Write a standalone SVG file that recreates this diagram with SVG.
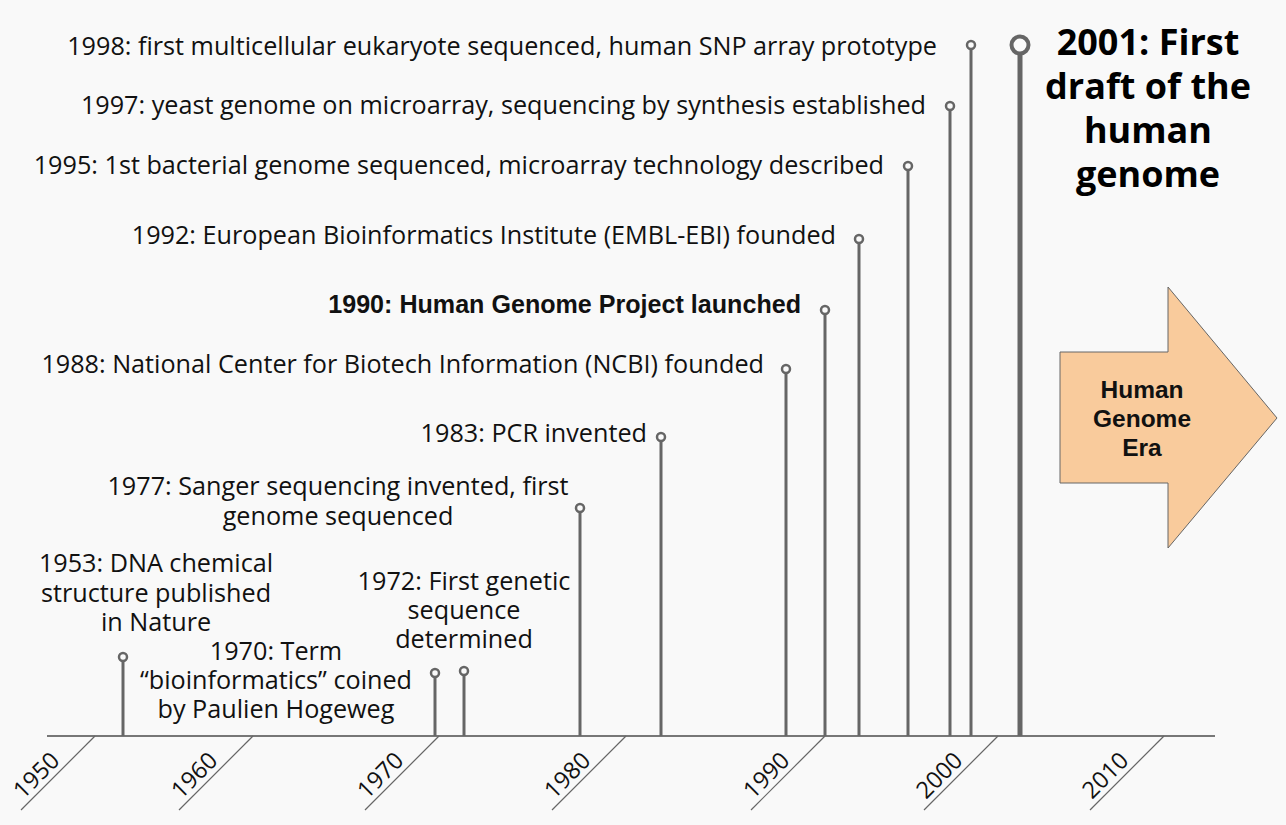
<svg xmlns="http://www.w3.org/2000/svg" width="1286" height="825" viewBox="0 0 1286 825">
<style>
.t{font-family:"Open Sans","DejaVu Sans",sans-serif;font-size:25.2px;fill:#111}
.e{text-anchor:end}
.m{text-anchor:middle}
.y{font-family:"Open Sans","DejaVu Sans",sans-serif;font-size:23.5px;fill:#111}
.b{font-family:"Liberation Sans",Arial,sans-serif;font-weight:bold;fill:#111}
.big{font-family:"Open Sans","DejaVu Sans",sans-serif;font-weight:bold;font-size:36px;fill:#000;text-anchor:middle}
.stem{stroke:#666;stroke-width:3;fill:none}
.dot{stroke:#666;stroke-width:2.5;fill:#fafafa}
.tick{stroke:#666;stroke-width:1.2}
</style>
<rect width="1286" height="825" fill="#f9f9f9"/>
<g id="axis">
<line x1="47" y1="736" x2="1215" y2="736" stroke="#777" stroke-width="2"/>
<g id="ticks">
<line class="tick" x1="95" y1="736" x2="21" y2="810"/>
<line class="tick" x1="253" y1="736" x2="179" y2="810"/>
<line class="tick" x1="439" y1="736" x2="365" y2="810"/>
<line class="tick" x1="626" y1="736" x2="552" y2="810"/>
<line class="tick" x1="825" y1="736" x2="751" y2="810"/>
<line class="tick" x1="998" y1="736" x2="924" y2="810"/>
<line class="tick" x1="1164" y1="736" x2="1090" y2="810"/>
</g>
<g id="years">
<text class="y" transform="translate(23,800) rotate(-45)">1950</text>
<text class="y" transform="translate(181,800) rotate(-45)">1960</text>
<text class="y" transform="translate(367,800) rotate(-45)">1970</text>
<text class="y" transform="translate(554,800) rotate(-45)">1980</text>
<text class="y" transform="translate(753,800) rotate(-45)">1990</text>
<text class="y" transform="translate(926,800) rotate(-45)">2000</text>
<text class="y" transform="translate(1092,800) rotate(-45)">2010</text>
</g>
</g>
<g id="connectors">
<line class="stem" x1="123" y1="661" x2="123" y2="736"/>
<line class="stem" x1="435" y1="677" x2="435" y2="736"/>
<line class="stem" x1="464" y1="675" x2="464" y2="736"/>
<line class="stem" x1="580" y1="512" x2="580" y2="736"/>
<line class="stem" x1="661" y1="441" x2="661" y2="736"/>
<line class="stem" x1="786" y1="373" x2="786" y2="736"/>
<line class="stem" x1="825" y1="314" x2="825" y2="736"/>
<line class="stem" x1="859" y1="243" x2="859" y2="736"/>
<line class="stem" x1="908" y1="170" x2="908" y2="736"/>
<line class="stem" x1="950" y1="110" x2="950" y2="736"/>
<line class="stem" x1="971" y1="49" x2="971" y2="736"/>
<line x1="1020" y1="53" x2="1020" y2="736" stroke="#666" stroke-width="5"/>
</g>
<g id="e1953"><circle class="dot" cx="123" cy="657" r="4"/><text class="t m" x="156" y="572">1953: DNA chemical<tspan x="156" dy="30">structure published</tspan><tspan x="156" dy="29">in Nature</tspan></text></g>
<g id="e1970"><circle class="dot" cx="435" cy="673" r="4"/><text class="t m" x="276" y="660">1970: Term<tspan x="276" dy="29">“bioinformatics” coined</tspan><tspan x="276" dy="29">by Paulien Hogeweg</tspan></text></g>
<g id="e1972"><circle class="dot" cx="464" cy="671" r="4"/><text class="t m" x="464" y="590">1972: First genetic<tspan x="464" dy="29">sequence</tspan><tspan x="464" dy="29">determined</tspan></text></g>
<g id="e1977"><circle class="dot" cx="580" cy="508" r="4"/><text class="t m" x="338" y="495">1977: Sanger sequencing invented, first<tspan x="338" dy="30">genome sequenced</tspan></text></g>
<g id="e1983"><circle class="dot" cx="661" cy="437" r="4"/><text class="t e" x="647" y="442">1983: PCR invented</text></g>
<g id="e1988"><circle class="dot" cx="786" cy="369" r="4"/><text class="t e" x="764" y="373">1988: National Center for Biotech Information (NCBI) founded</text></g>
<g id="e1990"><circle class="dot" cx="825" cy="310" r="4"/><text class="b e" x="801" y="313" font-size="25.1">1990: Human Genome Project launched</text></g>
<g id="e1992"><circle class="dot" cx="859" cy="239" r="4"/><text class="t e" x="836" y="244">1992: European Bioinformatics Institute (EMBL-EBI) founded</text></g>
<g id="e1995"><circle class="dot" cx="908" cy="166" r="4"/><text class="t e" x="884" y="174">1995: 1st bacterial genome sequenced, microarray technology described</text></g>
<g id="e1997"><circle class="dot" cx="950" cy="106" r="4"/><text class="t e" x="926" y="114">1997: yeast genome on microarray, sequencing by synthesis established</text></g>
<g id="e1998"><circle class="dot" cx="971" cy="45" r="4"/><text class="t e" x="937" y="55">1998: first multicellular eukaryote sequenced, human SNP array prototype</text></g>
<g id="e2001"><circle cx="1020" cy="45" r="8.5" fill="#fafafa" stroke="#666" stroke-width="4"/><text class="big" x="1148" y="55">2001: First<tspan x="1148" dy="44">draft of the</tspan><tspan x="1148" dy="44">human</tspan><tspan x="1148" dy="44">genome</tspan></text></g>
<g id="era">
<polygon points="1060,352 1168,352 1168,287 1277,418 1168,548 1168,483 1060,483" fill="#f9cb9c" stroke="#666" stroke-width="1"/>
<text class="b m" x="1142" y="398" font-size="24.5">Human<tspan x="1142" dy="29">Genome</tspan><tspan x="1142" dy="29">Era</tspan></text>
</g>
</svg>
